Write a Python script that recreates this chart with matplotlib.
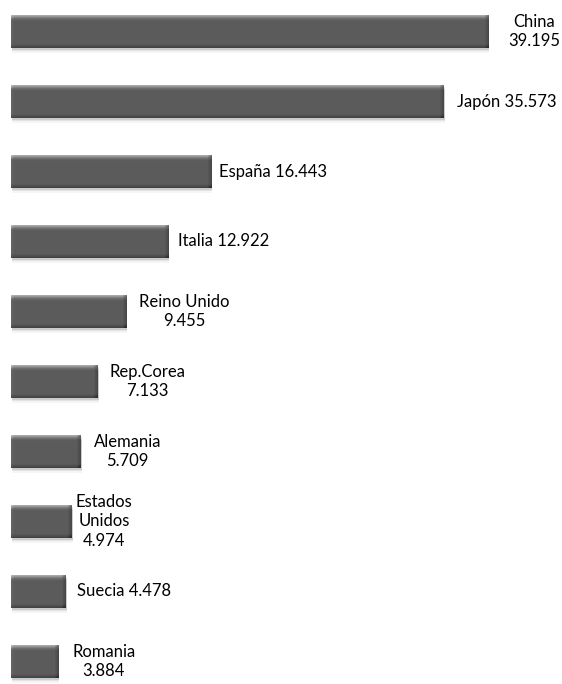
import numpy as np
import matplotlib.pyplot as plt
from matplotlib.colors import LinearSegmentedColormap
from matplotlib.patches import Rectangle

countries = ['China', 'Japón', 'España', 'Italia', 'Reino Unido', 'Rep.Corea',
             'Alemania', 'Estados Unidos', 'Suecia', 'Romania']
values = [39.195, 35.573, 16.443, 12.922, 9.455, 7.133, 5.709, 4.974, 4.478, 3.884]
labels = ['China\n39.195', 'Japón 35.573', 'España 16.443', 'Italia 12.922',
          'Reino Unido\n9.455', 'Rep.Corea\n7.133', 'Alemania\n5.709',
          'Estados\nUnidos\n4.974', 'Suecia 4.478', 'Romania\n3.884']
label_gap_px = [20, 13, 8, 10, 13, 12, 13, 4, 12, 14]

plt.rcParams['font.family'] = ['Lato', 'DejaVu Sans']

W, H, DPI = 562, 684, 100
fig = plt.figure(figsize=(W / DPI, H / DPI), dpi=DPI)
ax = fig.add_axes([0, 0, 1, 1])
ax.axis('off')

px_x = 12.17     # pixels per unit
px_y = 70.0      # pixels per row
x0, y0 = 11, 31.5
ax.set_xlim(-x0 / px_x, (W - x0) / px_x)
ax.set_ylim((H - y0) / px_y, -y0 / px_y)

bar_h = 0.46
bevel_cmap = LinearSegmentedColormap.from_list(
    'bevel', ['#2e2e2e', '#4a4a4a', '#5a5a5a', '#6e6e6e', '#a0a0a0', '#c8c8c8'])


def bevel_image(width_units):
    # vertical and horizontal shading for the bevelled bar
    ny, nx = 64, max(int(width_units * px_x), 8)
    yy = np.linspace(0, 1, ny)[:, None]          # 0 = top
    xx = np.arange(nx)[None, :]
    img = np.full((ny, nx), 0.42)
    top = np.clip(1 - yy / 0.16, 0, 1)
    bot = np.clip((yy - 0.88) / 0.12, 0, 1)
    right = np.clip((xx - (nx - 5)) / 5, 0, 1)
    left = np.clip(1 - xx / 3, 0, 1)
    img = img + 0.45 * top - 0.3 * bot - 0.3 * right + 0.08 * left
    return np.clip(img, 0, 1)


for i, (v, lab, gap) in enumerate(zip(values, labels, label_gap_px)):
    # soft shadow under the bar
    for k, a in enumerate([0.10, 0.07, 0.04]):
        off = (2 + 1.5 * k) / px_y
        ax.add_patch(Rectangle((0.1, i - bar_h / 2 + off), v, bar_h,
                               facecolor='#000000', alpha=a, lw=0, zorder=1))
    rect = Rectangle((0, i - bar_h / 2), v, bar_h, facecolor='#595959',
                     edgecolor='none', zorder=2)
    ax.add_patch(rect)
    im = ax.imshow(bevel_image(v), cmap=bevel_cmap, vmin=0, vmax=1,
                   extent=(0, v, i + bar_h / 2, i - bar_h / 2),
                   aspect='auto', zorder=3, interpolation='bilinear')
    im.set_clip_path(rect)
    ax.annotate(lab, xy=(v, i), xytext=(gap * 72 / DPI, 0),
                textcoords='offset points',
                ha='left', va='center', multialignment='center',
                fontsize=12, color='#000000', linespacing=1.3)

ax.set_xlim(-x0 / px_x, (W - x0) / px_x)
ax.set_ylim((H - y0) / px_y, -y0 / px_y)

fig.savefig('out.png', dpi=DPI, facecolor='white')
